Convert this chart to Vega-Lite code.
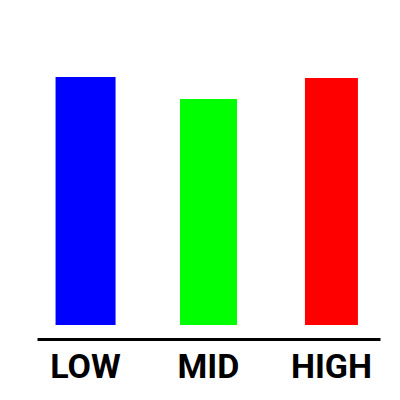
{
  "$schema": "https://vega.github.io/schema/vega-lite/v6.json",
  "width": 343,
  "height": 248,
  "autosize": {"type": "pad"},
  "padding": {"left": 37, "top": 77, "right": 20, "bottom": 5},
  "data": {
    "values": [
      {"level": "LOW", "value": 100},
      {"level": "MID", "value": 91.1},
      {"level": "HIGH", "value": 99.6}
    ]
  },
  "encoding": {
    "x": {
      "field": "level",
      "type": "nominal",
      "sort": ["LOW", "MID", "HIGH"],
      "scale": {"domain": ["LOW", "MID", "HIGH"], "paddingInner": 0.55, "paddingOuter": 0.17},
      "axis": {
        "title": null,
        "grid": false,
        "domainColor": "black",
        "domainWidth": 3,
        "offset": 14,
        "ticks": false,
        "labelAngle": 0,
        "labelFont": "Roboto",
        "labelFontWeight": "bold",
        "labelFontSize": 34,
        "labelColor": "black",
        "labelPadding": 11
      }
    },
    "y": {
      "field": "value",
      "type": "quantitative",
      "scale": {"domain": [0, 100], "nice": false},
      "axis": null
    },
    "color": {
      "field": "level",
      "type": "nominal",
      "scale": {"domain": ["LOW", "MID", "HIGH"], "range": ["#0000ff", "#00ff00", "#ff0000"]},
      "legend": null
    }
  },
  "layer": [
    {"transform": [{"filter": "datum.level == 'LOW'"}], "mark": {"type": "bar", "width": 60}},
    {"transform": [{"filter": "datum.level == 'MID'"}], "mark": {"type": "bar", "width": 57}},
    {"transform": [{"filter": "datum.level == 'HIGH'"}], "mark": {"type": "bar", "width": 53}}
  ],
  "config": {"view": {"stroke": null}}
}
